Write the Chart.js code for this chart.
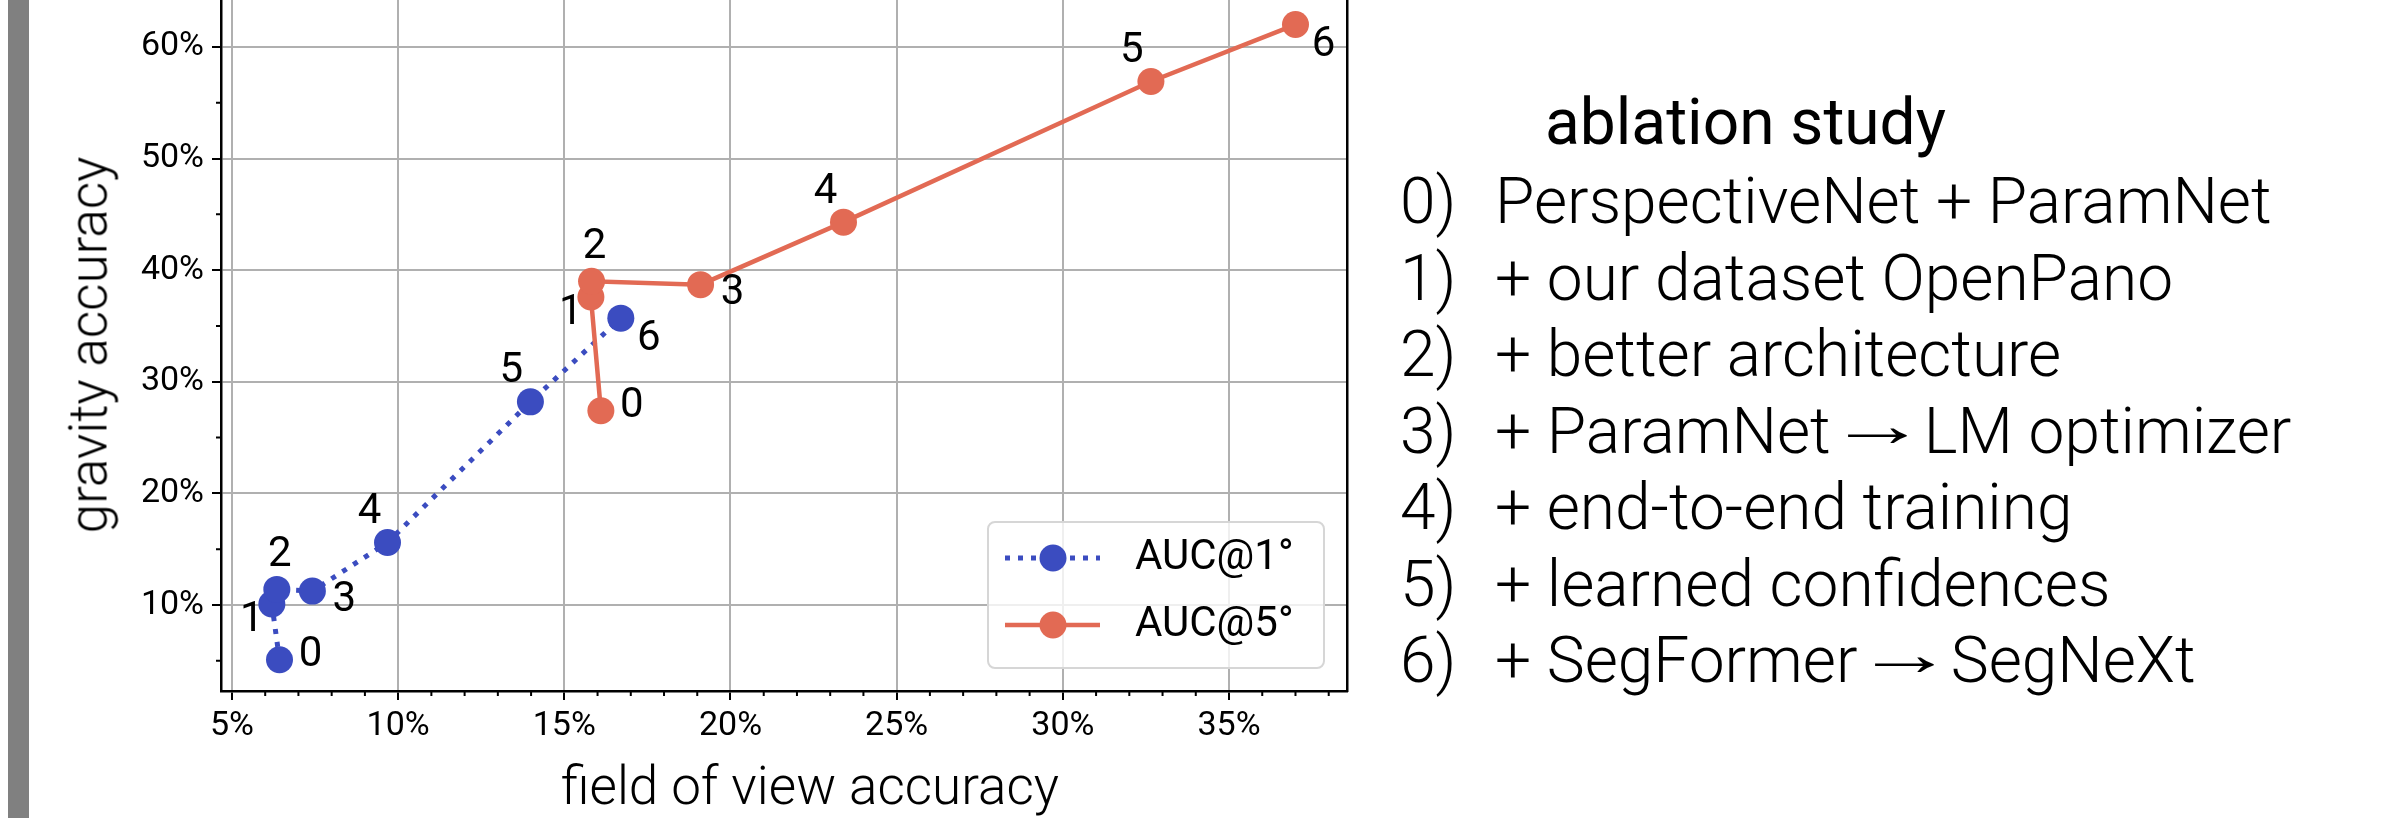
<!DOCTYPE html>
<html>
<head>
<meta charset="utf-8">
<script src="https://cdn.jsdelivr.net/npm/chart.js@4.4.1/dist/chart.umd.min.js"></script>
<style>
  html, body { margin: 0; padding: 0; background: #fff; }
  body { width: 2396px; height: 818px; position: relative; overflow: hidden; font-family: Roboto, sans-serif; }
  #bar { position: absolute; left: 8px; top: 0; width: 21px; height: 818px; background: #808080; }
  #plot { position: absolute; left: 0; top: 0; width: 1400px; height: 818px; }
  .axtitle { position: absolute; font-family: Roboto; font-weight: 300; font-size: 53px; color: #000; white-space: nowrap; line-height: 1; }
  #xtitle { left: 810px; top: 760px; transform: translateX(-50%); }
  #ytitle { left: 89px; top: 345px; transform: translate(-50%, -50%) rotate(-90deg); }
  #side { position: absolute; left: 1400px; top: 0; }
  #side h2 { position: absolute; left: 145px; top: 91px; margin: 0; font-weight: 400; font-size: 64px; line-height: 1; white-space: nowrap; }
  #side .row { position: absolute; left: 0; font-weight: 300; font-size: 64px; line-height: 1; white-space: nowrap; }
  #side .row span.n { display: inline-block; width: 95px; }
  #side .arrow { display: inline-block; font-family: 'Liberation Sans'; font-weight: 400; font-size: 62px; transform: translateY(-7px) scaleX(1.6); }
</style>
</head>
<body>
<div id="bar"></div>
<div id="plot"><canvas id="ablationChart" width="1400" height="818"></canvas></div>
<div class="axtitle" id="xtitle">field of view accuracy</div>
<div class="axtitle" id="ytitle">gravity accuracy</div>
<div id="side"></div>
<script>
// values (percent)
var seriesNames = ['AUC@1°', 'AUC@5°'];
var fovAuc1 = [6.43, 6.2, 6.35, 7.42, 9.68, 13.98, 16.7];
var gravAuc1 = [5.1, 10.1, 11.4, 11.25, 15.6, 28.2, 35.7];
var fovAuc5 = [16.1, 15.8, 15.82, 19.1, 23.4, 32.65, 37.0];
var gravAuc5 = [27.4, 37.6, 39.0, 38.7, 44.3, 56.9, 62.0];
var stepLabels = ['0', '1', '2', '3', '4', '5', '6'];
var xTicks = [5, 10, 15, 20, 25, 30, 35];
var yTicks = [10, 20, 30, 40, 50, 60];
var steps = [
    'PerspectiveNet + ParamNet',
    '+ our dataset OpenPano',
    '+ better architecture',
    '+ ParamNet \u2192 LM optimizer',
    '+ end-to-end training',
    '+ learned confidences',
    '+ SegFormer \u2192 SegNeXt'
];

// where each step number sits next to its marker (px)
var labelOffsets = [[31, -4], [-20, 17], [3, -34], [32, 9], [-18, -30], [-19, -30], [28, 21]];

// side panel text
var side = document.getElementById('side');
var h = document.createElement('h2');
h.textContent = 'ablation study';
side.appendChild(h);
steps.forEach(function (s, i) {
    var row = document.createElement('div');
    row.className = 'row';
    row.style.top = (170 + i * 76.5) + 'px';
    var num = document.createElement('span');
    num.className = 'n';
    num.textContent = i + ')';
    row.appendChild(num);
    s.split('\u2192').forEach(function (part, k) {
        if (k > 0) {
            var ar = document.createElement('span');
            ar.className = 'arrow';
            ar.textContent = '\u2192';
            row.appendChild(ar);
        }
        row.appendChild(document.createTextNode(part));
    });
    side.appendChild(row);
});

function points(xs, ys) {
    return xs.map(function (x, i) { return { x: x, y: ys[i] }; });
}

var blue = '#3b4cc0';
var orange = '#e26a54';

// step numbers beside the markers
var stepLabelPlugin = {
    id: 'stepLabels',
    afterDatasetsDraw: function (chart) {
        var ctx = chart.ctx;
        var xs = chart.scales.x, ys = chart.scales.y;
        ctx.save();
        ctx.font = '42px Roboto';
        ctx.fillStyle = '#000';
        ctx.textAlign = 'center';
        ctx.textBaseline = 'middle';
        chart.data.datasets.forEach(function (ds) {
            ds.data.forEach(function (p, i) {
                ctx.fillText(stepLabels[i], xs.getPixelForValue(p.x) + labelOffsets[i][0],
                    ys.getPixelForValue(p.y) + labelOffsets[i][1]);
            });
        });
        ctx.restore();
    }
};

// matplotlib style minor ticks
var minorTickPlugin = {
    id: 'minorTicks',
    afterDraw: function (chart) {
        var ctx = chart.ctx, a = chart.chartArea;
        var xs = chart.scales.x, ys = chart.scales.y;
        ctx.save();
        ctx.strokeStyle = '#000';
        ctx.lineWidth = 2;
        ctx.beginPath();
        for (var v = Math.ceil(xs.min); v <= xs.max; v++) {
            if (v % 5 === 0) continue;
            var px = xs.getPixelForValue(v);
            ctx.moveTo(px, a.bottom);
            ctx.lineTo(px, a.bottom + 5);
        }
        for (var w = 5; w <= ys.max; w += 10) {
            var py = ys.getPixelForValue(w);
            ctx.moveTo(a.left, py);
            ctx.lineTo(a.left - 5, py);
        }
        ctx.stroke();
        ctx.restore();
    }
};

// legend box in the lower right of the axes
var boxLegendPlugin = {
    id: 'boxLegend',
    afterDraw: function (chart) {
        var ctx = chart.ctx, a = chart.chartArea;
        var w = 336, hgt = 146;
        var left = a.right - 23 - w, top = a.bottom - 23 - hgt;
        ctx.save();
        ctx.beginPath();
        ctx.roundRect(left, top, w, hgt, 7);
        ctx.fillStyle = 'rgba(255,255,255,0.8)';
        ctx.fill();
        ctx.strokeStyle = '#d6d6d6';
        ctx.lineWidth = 2;
        ctx.stroke();
        chart.data.datasets.forEach(function (ds, i) {
            var cy = top + 36 + i * 67;
            ctx.strokeStyle = ds.borderColor;
            ctx.lineWidth = ds.borderWidth;
            ctx.setLineDash(ds.borderDash || []);
            ctx.beginPath();
            ctx.moveTo(left + 17, cy);
            ctx.lineTo(left + 112, cy);
            ctx.stroke();
            ctx.setLineDash([]);
            ctx.beginPath();
            ctx.arc(left + 65, cy, ds.pointRadius, 0, Math.PI * 2);
            ctx.fillStyle = ds.pointBackgroundColor;
            ctx.fill();
            ctx.fillStyle = '#000';
            ctx.font = '42px Roboto';
            ctx.textBaseline = 'middle';
            ctx.fillText(ds.label, left + 147, cy);
        });
        ctx.restore();
    }
};

var ctx = document.getElementById('ablationChart').getContext('2d');
var ablationChart = new Chart(ctx, {
    type: 'scatter',
    data: {
        datasets: [{
            label: seriesNames[0],
            data: points(fovAuc1, gravAuc1),
            showLine: true,
            borderColor: blue,
            borderWidth: 5,
            borderDash: [5, 8],
            borderCapStyle: 'butt',
            pointRadius: 13.5,
            pointBackgroundColor: blue,
            pointBorderWidth: 0,
            order: 2
        }, {
            label: seriesNames[1],
            data: points(fovAuc5, gravAuc5),
            showLine: true,
            borderColor: orange,
            borderWidth: 4.5,
            pointRadius: 13.5,
            pointBackgroundColor: orange,
            pointBorderWidth: 0,
            order: 1
        }]
    },
    options: {
        responsive: false,
        animation: false,
        devicePixelRatio: 1,
        layout: { autoPadding: false, padding: { left: 0, right: 53, top: 0, bottom: 0 } },
        plugins: { legend: { display: false }, tooltip: { enabled: false } },
        scales: {
            x: {
                type: 'linear',
                min: 4.67,
                max: 38.55,
                afterBuildTicks: function (s) { s.ticks = xTicks.map(function (v) { return { value: v }; }); },
                afterFit: function (s) { s.height = 127; s.paddingLeft = 0; s.paddingRight = 0; },
                ticks: {
                    callback: function (v) { return v + '%'; },
                    font: { family: 'Roboto', size: 34 },
                    color: '#000',
                    padding: 6,
                    maxRotation: 0
                },
                grid: { color: '#b0b0b0', lineWidth: 2, tickColor: '#000', tickLength: 9, tickWidth: 2 },
                border: { color: '#000', width: 2.5 }
            },
            y: {
                type: 'linear',
                min: 2.3,
                max: 64.2,
                afterBuildTicks: function (s) { s.ticks = yTicks.map(function (v) { return { value: v }; }); },
                afterFit: function (s) { s.width = 221; s.paddingTop = 0; s.paddingBottom = 0; },
                ticks: {
                    callback: function (v) { return v + '%'; },
                    font: { family: 'Roboto', size: 34 },
                    color: '#000',
                    padding: 8
                },
                grid: { color: '#b0b0b0', lineWidth: 2, tickColor: '#000', tickLength: 9, tickWidth: 2 },
                border: { color: '#000', width: 2.5 }
            },
            yRight: {
                type: 'linear',
                position: 'right',
                min: 2.3,
                max: 64.2,
                afterFit: function (s) { s.width = 0; s.paddingTop = 0; s.paddingBottom = 0; },
                ticks: { display: false },
                grid: { drawOnChartArea: false, drawTicks: false },
                border: { color: '#000', width: 2.5 }
            }
        }
    },
    plugins: [stepLabelPlugin, minorTickPlugin, boxLegendPlugin]
});
</script>
</body>
</html>
